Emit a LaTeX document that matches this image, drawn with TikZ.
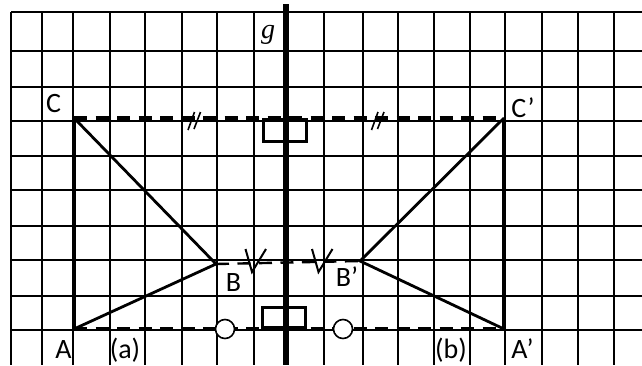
\documentclass[tikz,border=0pt]{standalone}
\usepackage{fontspec}
\setmainfont{Carlito}
\newfontfamily\serifit{Liberation Serif}
\usetikzlibrary{positioning, calc}

\begin{document}
\begin{tikzpicture}[
  x=1pt, y=-1pt,
  font=\fontsize{28}{30}\selectfont,
  gridline/.style={line width=1.7pt},
  axis/.style={line width=6pt},
  side/.style={line width=4pt},
  slant/.style={line width=2.8pt},
  guide/.style={dash pattern=on 13pt off 8.5pt, line width=3.3pt},
  guidethin/.style={dash pattern=on 13pt off 8.5pt, line width=2.4pt},
  tick/.style={line width=1.6pt},
  rightangle/.style={draw, line width=3pt, inner sep=0pt},
  midmark/.style={circle, draw, fill=white, line width=1.6pt, minimum size=19pt, inner sep=0pt},
  lbl/.style={inner sep=0pt, anchor=base}
]
\useasboundingbox (0,0) rectangle (642,365);
\fill[white] (0,0) rectangle (642,365);

% grid
\foreach \gx in {11,41.7,73.3,110,145,181.7,217.3,254.3,285.7,324.3,362.7,398.3,434.3,470,505.3,542,577.7,614.3}
  \draw[gridline] (\gx,12) -- (\gx,365);
\foreach \gy in {12,51,87,121,156,190,226,260,296,330}
  \draw[gridline] (11,\gy) -- (642,\gy);

% points
\coordinate (C) at (74,118);
\coordinate (B) at (216,264);
\coordinate (A) at (74,329);
\coordinate (Cp) at (504,118);
\coordinate (Bp) at (360,261);
\coordinate (Ap) at (504,329);
\coordinate (gtop) at (286,4);
\coordinate (gbot) at (286,365);

% mirror line
\draw[axis] (gtop) -- (gbot);

\draw[guide] (C) -- (Cp);
\draw[guidethin] (B) -- (Bp);
\draw[guide] (A) -- (Ap);

\draw[side] (A) -- (C);
\draw[side] (Ap) -- (Cp);
\draw[slant] (C) -- (B) -- (A);
\draw[slant] (Cp) -- (Bp) -- (Ap);

% right angles and equal marks
\node[rightangle, minimum width=43pt, minimum height=22pt, anchor=north] (sqtop) at (284.5,118) {};
\node[rightangle, minimum width=43pt, minimum height=20pt, anchor=south] (sqbot) at (283.5,329) {};
\node[midmark] (ma) at (225,329) {};
\node[midmark] (mb) at (343,329) {};

\coordinate (eq1) at (194.5,121);
\coordinate (eq2) at (378,121);
\foreach \m in {eq1,eq2}
  \draw[tick] ([shift={(-6.5,9)}]\m) -- ++(6.5,-18) ([shift={(-0.5,8)}]\m) -- ++(6.5,-17);

\coordinate (ck1) at (252,272);
\coordinate (ck2) at (318.5,272);
\foreach \m in {ck1,ck2}
  \draw[tick, line width=2pt] ([shift={(-6.5,-23)}]\m) -- (\m) -- ++(14,-23);

% labels
\node[lbl] (lg) at (268,38) {\serifit\itshape g};
\node[lbl] (lC) at (53.5,112) {C};
\node[lbl] (lCp) at (523,117) {C’};
\node[lbl] (lB) at (233.5,291) {B};
\node[lbl] (lBp) at (347,286) {B’};
\node[lbl] (lA) at (63.5,358) {A};
\node[lbl] (la) at (125,358) {(a)};
\node[lbl] (lb) at (451,358) {(b)};
\node[lbl] (lAp) at (522.5,358) {A’};
\end{tikzpicture}
\end{document}
